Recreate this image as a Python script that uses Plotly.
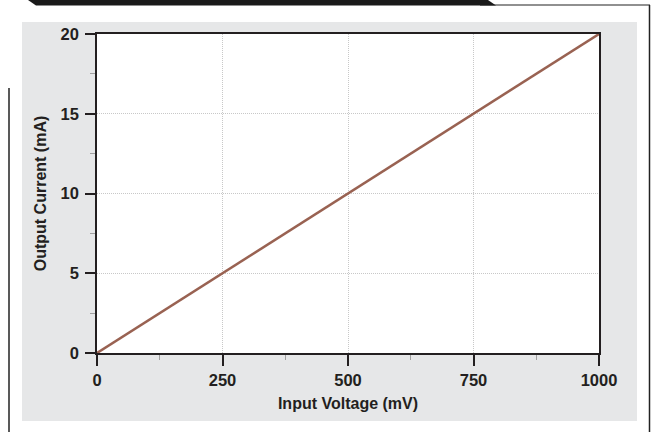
import plotly.graph_objects as go

x_voltage_mv = [0, 1000]
y_current_ma = [0, 20]
x_ticks = [0, 250, 500, 750, 1000]
y_ticks = [0, 5, 10, 15, 20]

W, H = 651, 432
L, R, T, B = 97, 52, 34, 79
pw, ph = W - L - R, H - T - B

def px(xp):
    return (xp - L) / pw

def py(yp):
    return (H - B - yp) / ph

fig = go.Figure()
fig.add_trace(go.Scatter(x=x_voltage_mv, y=y_current_ma, mode="lines",
                         line=dict(color="#996252", width=2.5), showlegend=False))

shapes = []
# gray panel
shapes.append(dict(type="rect", xref="paper", yref="paper", layer="below",
                   x0=px(22), x1=px(637), y0=py(421), y1=py(22),
                   fillcolor="#e6e7e8", line=dict(width=0)))
# white plot area
shapes.append(dict(type="rect", xref="paper", yref="paper", layer="below",
                   x0=0, x1=1, y0=0, y1=1,
                   fillcolor="white", line=dict(width=0)))
# left vertical line
shapes.append(dict(type="line", xref="paper", yref="paper",
                   x0=px(9), x1=px(9), y0=py(88), y1=py(432),
                   line=dict(color="#222", width=1.5)))
# right vertical frame line
shapes.append(dict(type="line", xref="paper", yref="paper",
                   x0=px(649.5), x1=px(649.5), y0=py(5), y1=py(432),
                   line=dict(color="#222", width=1.5)))
# thin top line
shapes.append(dict(type="line", xref="paper", yref="paper",
                   x0=px(480), x1=px(650), y0=py(5), y1=py(5),
                   line=dict(color="#222", width=1.2)))
# black top tab
path = "M {},{} L {},{} L {},{} L {},{} Z".format(
    px(28), py(0), px(488), py(0), px(496), py(5.5), px(36), py(5.5))
shapes.append(dict(type="path", xref="paper", yref="paper", path=path,
                   fillcolor="#1a1a1a", line=dict(width=0)))

font_family = "Liberation Sans, Arial, sans-serif"
grid_dash = "1px,1px"

fig.update_layout(
    width=W, height=H,
    margin=dict(l=L, r=R, t=T, b=B, pad=0),
    paper_bgcolor="white", plot_bgcolor="rgba(0,0,0,0)",
    shapes=shapes,
    font=dict(family=font_family, color="#231f20"),
    xaxis=dict(range=[0, 1000], tickvals=x_ticks, ticktext=[str(v) for v in x_ticks],
               showline=True, linecolor="#231f20", linewidth=1.5, mirror=True,
               ticks="outside", ticklen=11, tickwidth=1.5, tickcolor="#231f20",
               showgrid=True, gridcolor="#c8c8c8", griddash=grid_dash, gridwidth=1,
               zeroline=False,
               minor=dict(tickvals=[125, 375, 625, 875], ticks="outside", ticklen=5,
                          tickcolor="#a0a0a0", tickwidth=1, showgrid=False),
               tickfont=dict(size=16.5, weight="bold"),
               title=dict(text="Input Voltage (mV)", font=dict(size=16, weight="bold"),
                          standoff=10)),
    yaxis=dict(range=[0, 20], tickvals=y_ticks, ticktext=[str(v) for v in y_ticks],
               showline=True, linecolor="#231f20", linewidth=1.5, mirror=True,
               ticks="outside", ticklen=10, tickwidth=1.5, tickcolor="#231f20",
               ticklabelstandoff=3,
               showgrid=True, gridcolor="#c8c8c8", griddash=grid_dash, gridwidth=1,
               zeroline=False,
               minor=dict(tickvals=[2.5, 7.5, 12.5, 17.5], ticks="outside", ticklen=5,
                          tickcolor="#a0a0a0", tickwidth=1, showgrid=False),
               tickfont=dict(size=16.5, weight="bold"),
               title=dict(text="Output Current (mA)", font=dict(size=16, weight="bold"),
                          standoff=10)),
)

fig.write_html("out.html", config={"displayModeBar": False},
               post_script="document.body.style.margin='0';document.body.style.padding='0';")
